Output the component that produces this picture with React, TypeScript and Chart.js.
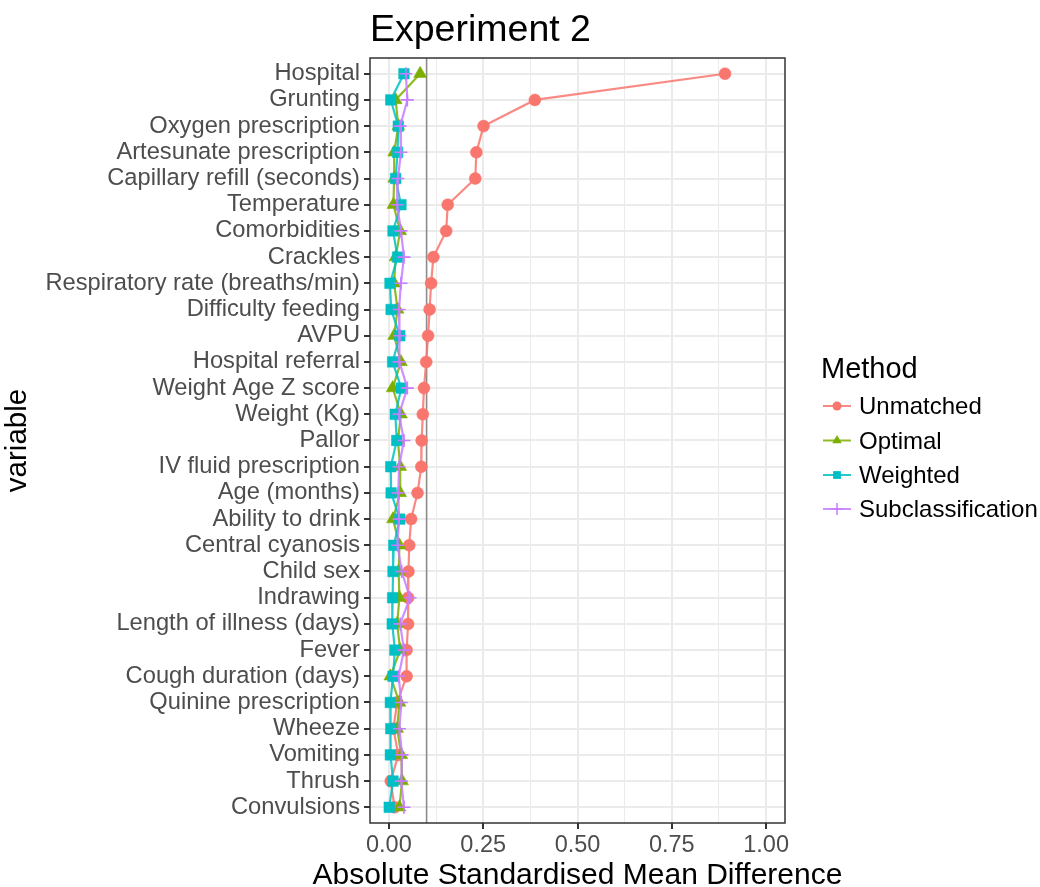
import React, { useEffect, useRef } from 'react';
import { Chart, registerables } from 'chart.js';

Chart.register(...registerables);

const FONT = '"Liberation Sans", Arial, Helvetica, sans-serif';

const chartTitle = 'Experiment 2';
const xAxisTitle = 'Absolute Standardised Mean Difference';
const yAxisTitle = 'variable';
const legendTitle = 'Method';

const variables = [
  'Hospital',
  'Grunting',
  'Oxygen prescription',
  'Artesunate prescription',
  'Capillary refill (seconds)',
  'Temperature',
  'Comorbidities',
  'Crackles',
  'Respiratory rate (breaths/min)',
  'Difficulty feeding',
  'AVPU',
  'Hospital referral',
  'Weight Age Z score',
  'Weight (Kg)',
  'Pallor',
  'IV fluid prescription',
  'Age (months)',
  'Ability to drink',
  'Central cyanosis',
  'Child sex',
  'Indrawing',
  'Length of illness (days)',
  'Fever',
  'Cough duration (days)',
  'Quinine prescription',
  'Wheeze',
  'Vomiting',
  'Thrush',
  'Convulsions',
];

const unmatched = [
  0.891, 0.387, 0.251, 0.232, 0.229, 0.156, 0.152, 0.118, 0.112, 0.108,
  0.104, 0.099, 0.093, 0.09, 0.087, 0.086, 0.076, 0.059, 0.054, 0.052,
  0.051, 0.051, 0.047, 0.047, 0.022, 0.012, 0.025, 0.005, 0.015,
];
const optimal = [
  0.083, 0.018, 0.025, 0.014, 0.014, 0.012, 0.03, 0.018, 0.014, 0.023,
  0.014, 0.032, 0.01, 0.032, 0.024, 0.03, 0.03, 0.011, 0.028, 0.026,
  0.028, 0.022, 0.03, 0.004, 0.028, 0.022, 0.033, 0.035, 0.028,
];
const weighted = [
  0.04, 0.005, 0.025, 0.023, 0.018, 0.032, 0.011, 0.023, 0.003, 0.006,
  0.029, 0.01, 0.033, 0.017, 0.021, 0.005, 0.006, 0.029, 0.013, 0.011,
  0.01, 0.009, 0.016, 0.011, 0.004, 0.005, 0.004, 0.011, 0.001,
];
const subclassification = [
  0.045, 0.049, 0.03, 0.032, 0.024, 0.022, 0.032, 0.04, 0.032, 0.027,
  0.029, 0.027, 0.049, 0.027, 0.04, 0.027, 0.025, 0.027, 0.023, 0.034,
  0.056, 0.03, 0.04, 0.026, 0.033, 0.028, 0.035, 0.033, 0.04,
];

const methods = ['Unmatched', 'Optimal', 'Weighted', 'Subclassification'];
const colors = ['#F8766D', '#7CAE00', '#00BFC4', '#C77CFF'];
const lineColors = [
  'rgba(248,118,109,0.85)',
  'rgba(124,174,0,0.85)',
  'rgba(0,191,196,0.85)',
  'rgba(199,124,255,0.85)',
];
const pointStyles = ['circle', 'triangle', 'rect', 'cross'];

const xMajorTicks = [0, 0.25, 0.5, 0.75, 1];
const xMinorTicks = [0.125, 0.375, 0.625, 0.875];
const threshold = 0.1;

function isMajor(v: number) {
  return xMajorTicks.some((m) => Math.abs(m - v) < 1e-9);
}

function drawMarker(ctx: CanvasRenderingContext2D, style: string, x: number, y: number, r: number, color: string) {
  ctx.save();
  ctx.fillStyle = color;
  ctx.strokeStyle = color;
  ctx.beginPath();
  if (style === 'circle') {
    ctx.arc(x, y, r, 0, Math.PI * 2);
    ctx.fill();
  } else if (style === 'triangle') {
    ctx.moveTo(x, y - r);
    ctx.lineTo(x + r * 0.866, y + r * 0.5);
    ctx.lineTo(x - r * 0.866, y + r * 0.5);
    ctx.closePath();
    ctx.fill();
  } else if (style === 'rect') {
    const s = r * Math.SQRT1_2;
    ctx.rect(x - s, y - s, 2 * s, 2 * s);
    ctx.fill();
  } else {
    ctx.lineWidth = 1.5;
    ctx.moveTo(x - r, y);
    ctx.lineTo(x + r, y);
    ctx.moveTo(x, y - r);
    ctx.lineTo(x, y + r);
    ctx.stroke();
  }
  ctx.restore();
}

const decorPlugin = {
  id: 'decor',
  beforeDatasetsDraw(chart: any) {
    const { ctx, chartArea, scales } = chart;
    const x = scales.x.getPixelForValue(threshold);
    ctx.save();
    ctx.strokeStyle = '#8c8c8c';
    ctx.lineWidth = 1.6;
    ctx.beginPath();
    ctx.moveTo(x, chartArea.top);
    ctx.lineTo(x, chartArea.bottom);
    ctx.stroke();
    ctx.restore();
  },
  afterDraw(chart: any) {
    const { ctx, chartArea } = chart;
    ctx.save();
    // panel border
    ctx.strokeStyle = '#333333';
    ctx.lineWidth = 1.5;
    ctx.strokeRect(chartArea.left, chartArea.top, chartArea.right - chartArea.left, chartArea.bottom - chartArea.top);

    // title
    ctx.fillStyle = '#000';
    ctx.textAlign = 'left';
    ctx.textBaseline = 'alphabetic';
    ctx.font = `37.5px ${FONT}`;
    ctx.fillText(chartTitle, chartArea.left, 41);

    // x axis title
    ctx.font = `30px ${FONT}`;
    ctx.textAlign = 'center';
    ctx.fillText(xAxisTitle, (chartArea.left + chartArea.right) / 2, 884);

    // legend
    ctx.textAlign = 'left';
    ctx.font = `29px ${FONT}`;
    ctx.fillText(legendTitle, 821, 378);
    ctx.font = `24px ${FONT}`;
    const rowY = [406, 440.5, 475, 509];
    methods.forEach((m, i) => {
      const y = rowY[i];
      ctx.strokeStyle = lineColors[i];
      ctx.lineWidth = 2;
      ctx.beginPath();
      ctx.moveTo(823, y);
      ctx.lineTo(851, y);
      ctx.stroke();
      const r = i === 0 ? 4.5 : i === 1 ? 5.5 : i === 2 ? 5.5 : 6;
      drawMarker(ctx, pointStyles[i], 837, y, r, colors[i]);
      ctx.fillStyle = '#000';
      ctx.fillText(m, 859, y + 8);
    });
    ctx.restore();
  },
};

export default function App() {
  const ref = useRef<HTMLCanvasElement>(null);

  useEffect(() => {
    if (!ref.current) return;
    const series = [unmatched, optimal, weighted, subclassification];
    const radii = [6, 7.5, 7.5, 6.5];
    const orders = [4, 3, 2, 1];
    const chart = new Chart(ref.current, {
      type: 'line',
      data: {
        datasets: series.map((s, i) => ({
          label: methods[i],
          data: s.map((v, j) => ({ x: v, y: j })),
          borderColor: lineColors[i],
          backgroundColor: colors[i],
          borderWidth: 2.2,
          pointStyle: pointStyles[i] as any,
          pointRadius: radii[i],
          pointBackgroundColor: colors[i],
          pointBorderColor: colors[i],
          pointBorderWidth: i === 3 ? 1.6 : 0.5,
          tension: 0,
          fill: false,
          order: orders[i],
        })),
      },
      plugins: [decorPlugin],
      options: {
        animation: false,
        responsive: false,
        indexAxis: 'y',
        layout: { padding: { left: 0, top: 58, right: 255, bottom: 0 } },
        plugins: {
          legend: { display: false },
          title: { display: false },
          tooltip: { enabled: false },
        },
        scales: {
          x: {
            type: 'linear',
            position: 'bottom',
            min: -0.05,
            max: 1.05,
            afterBuildTicks: (s: any) => {
              s.ticks = [...xMajorTicks, ...xMinorTicks]
                .sort((a, b) => a - b)
                .map((v) => ({ value: v }));
            },
            afterFit: (s: any) => {
              s.height = 64;
            },
            ticks: {
              autoSkip: false,
              maxRotation: 0,
              padding: 2,
              color: '#4d4d4d',
              font: { family: FONT, size: 23.5 },
              callback: (v: any) => (isMajor(Number(v)) ? Number(v).toFixed(2) : ''),
            },
            grid: {
              color: '#ebebeb',
              lineWidth: (ctx: any) => (ctx.tick && isMajor(ctx.tick.value) ? 2 : 1),
              tickColor: (ctx: any) => (ctx.tick && isMajor(ctx.tick.value) ? '#333333' : 'rgba(0,0,0,0)'),
              tickLength: 6,
              drawTicks: true,
            },
            border: { display: false },
            title: { display: false },
          },
          y: {
            type: 'linear',
            position: 'left',
            reverse: true,
            min: -0.6,
            max: 28.6,
            afterBuildTicks: (s: any) => {
              s.ticks = variables.map((_, i) => ({ value: i }));
            },
            afterFit: (s: any) => {
              s.width = 370;
            },
            ticks: {
              autoSkip: false,
              padding: 4,
              color: '#4d4d4d',
              font: { family: FONT, size: 23.7 },
              callback: (v: any) => variables[Number(v)] ?? '',
            },
            grid: {
              color: '#ebebeb',
              lineWidth: 2,
              tickColor: '#333333',
              tickLength: 6,
              drawTicks: true,
            },
            border: { display: false },
            title: {
              display: true,
              text: yAxisTitle,
              color: '#000',
              padding: 2,
              font: { family: FONT, size: 29.5, lineHeight: 1.1 },
            },
          },
        },
      } as any,
    });
    return () => chart.destroy();
  }, []);

  return (
    <div style={{ position: 'absolute', left: 0, top: 0, width: 1040, height: 887, background: '#fff' }}>
      <canvas ref={ref} width={1040} height={887} style={{ width: 1040, height: 887, display: 'block' }} />
    </div>
  );
}
